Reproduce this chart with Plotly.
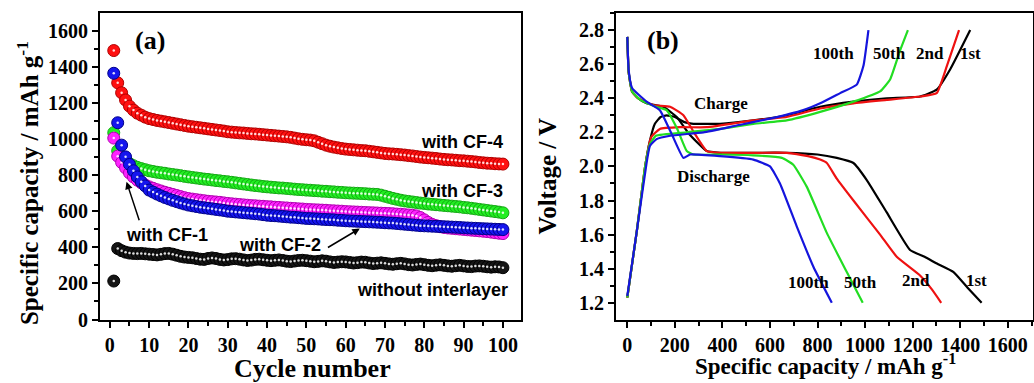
import plotly.graph_objects as go

# ---------------- Panel (a): cycling data ----------------
cycles = list(range(1, 101))

cf4 = [1490, 1311, 1256, 1216, 1182, 1160, 1143, 1132, 1121, 1113,
       1108, 1103, 1099, 1095, 1091, 1087, 1083, 1079, 1075, 1071,
       1068, 1065, 1062, 1059, 1056, 1053, 1050, 1047, 1044, 1040,
       1038, 1036, 1034, 1033, 1031, 1029, 1028, 1026, 1024, 1022,
       1020, 1018, 1016, 1014, 1012, 1009, 1005, 1001, 998, 996,
       994, 990, 982, 974, 966, 960, 955, 951, 947, 944,
       942, 940, 938, 936, 935, 932, 929, 926, 923, 920,
       918, 917, 915, 913, 911, 908, 906, 903, 900, 898,
       896, 894, 892, 889, 887, 885, 884, 882, 880, 879,
       877, 875, 873, 870, 868, 866, 865, 863, 862, 861]

cf3 = [1035, 935, 902, 880, 864, 852, 843, 836, 830, 824,
       820, 816, 813, 810, 806, 803, 800, 797, 793, 790,
       787, 784, 781, 778, 776, 773, 770, 768, 765, 763,
       760, 757, 754, 751, 748, 745, 742, 740, 737, 735,
       733, 731, 729, 728, 726, 724, 722, 720, 719, 717,
       716, 714, 713, 711, 710, 708, 707, 705, 704, 702,
       701, 700, 699, 698, 697, 695, 694, 693, 689, 683,
       677, 671, 666, 661, 657, 654, 651, 648, 645, 643,
       640, 638, 636, 634, 632, 630, 628, 626, 624, 621,
       619, 616, 613, 610, 607, 604, 601, 598, 595, 591]

cf2 = [1364, 1090, 966, 901, 859, 824, 790, 763, 740, 717,
       706, 695, 685, 676, 668, 660, 653, 646, 640, 634,
       630, 626, 622, 619, 616, 613, 610, 607, 604, 600,
       598, 596, 594, 592, 590, 588, 586, 584, 581, 578,
       576, 575, 573, 571, 569, 567, 566, 564, 562, 560,
       559, 558, 557, 555, 554, 553, 552, 550, 549, 547,
       546, 545, 544, 543, 542, 541, 540, 539, 538, 536,
       535, 534, 532, 530, 528, 526, 524, 522, 520, 519,
       518, 517, 516, 515, 514, 513, 512, 511, 510, 508,
       507, 506, 505, 504, 503, 502, 501, 500, 499, 498]

cf1 = [1005, 905, 870, 840, 812, 790, 772, 757, 745, 735,
       727, 719, 712, 705, 699, 693, 687, 681, 675, 670,
       667, 664, 661, 658, 655, 653, 651, 649, 646, 643,
       641, 639, 637, 635, 633, 631, 630, 628, 627, 625,
       624, 622, 621, 619, 618, 616, 615, 613, 612, 610,
       609, 608, 607, 606, 605, 603, 602, 601, 600, 598,
       597, 596, 595, 594, 593, 592, 591, 590, 589, 588,
       587, 586, 584, 583, 581, 579, 577, 574, 565, 552,
       538, 527, 520, 514, 510, 507, 505, 503, 501, 499,
       497, 495, 493, 491, 489, 487, 484, 481, 478, 476]

no_inter = [213, 393, 381, 373, 368, 366, 365, 366, 364, 362,
            360, 358, 361, 365, 366, 362, 356, 350, 346, 344,
            342, 338, 334, 333, 338, 341, 338, 333, 330, 332,
            336, 337, 334, 330, 327, 329, 333, 334, 331, 328,
            326, 328, 330, 327, 323, 321, 324, 327, 328, 326,
            323, 320, 322, 325, 323, 319, 316, 318, 320, 319,
            316, 313, 315, 318, 317, 313, 310, 312, 314, 311,
            308, 306, 309, 311, 308, 304, 302, 305, 307, 304,
            300, 298, 301, 303, 300, 297, 295, 298, 300, 297,
            294, 293, 296, 297, 295, 292, 290, 292, 291, 287]

# ---------------- Panel (b): voltage profiles ----------------
d1_cap = [0, 6, 20, 45, 81, 151, 208, 260, 334, 390, 500, 670, 800, 881, 951, 1007, 1091, 1189, 1250, 1302, 1372, 1430, 1490]
d1_v = [2.76, 2.55, 2.44, 2.40, 2.37, 2.35, 2.29, 2.19, 2.09, 2.08, 2.08, 2.08, 2.07, 2.05, 2.02, 1.92, 1.73, 1.51, 1.47, 1.43, 1.38, 1.29, 1.20]
d2_cap = [0, 6, 20, 45, 109, 180, 236, 280, 334, 400, 550, 670, 760, 811, 839, 880, 951, 1063, 1133, 1231, 1280, 1320]
d2_v = [2.76, 2.55, 2.44, 2.40, 2.36, 2.35, 2.30, 2.20, 2.09, 2.08, 2.08, 2.08, 2.06, 2.04, 2.02, 1.93, 1.80, 1.60, 1.47, 1.36, 1.28, 1.20]
d50_cap = [0, 6, 20, 55, 120, 165, 210, 250, 278, 400, 530, 650, 698, 755, 839, 923, 990]
d50_v = [2.76, 2.55, 2.44, 2.39, 2.35, 2.33, 2.22, 2.09, 2.07, 2.07, 2.065, 2.05, 2.01, 1.88, 1.61, 1.38, 1.20]
d100_cap = [0, 6, 20, 81, 137, 190, 236, 264, 390, 530, 600, 642, 712, 783, 860]
d100_v = [2.76, 2.56, 2.46, 2.38, 2.33, 2.18, 2.05, 2.07, 2.06, 2.04, 2.00, 1.90, 1.65, 1.41, 1.20]

c1_cap = [0, 40, 75, 95, 116, 140, 165, 200, 240, 278, 390, 530, 670, 811, 951, 1091, 1231, 1301, 1358, 1442]
c1_v = [1.23, 1.62, 2.00, 2.15, 2.25, 2.29, 2.30, 2.29, 2.26, 2.25, 2.25, 2.27, 2.30, 2.35, 2.38, 2.40, 2.41, 2.45, 2.57, 2.80]
c2_cap = [0, 40, 75, 100, 137, 222, 334, 530, 670, 811, 951, 1091, 1231, 1301, 1344, 1395]
c2_v = [1.23, 1.62, 2.00, 2.17, 2.22, 2.23, 2.23, 2.27, 2.29, 2.34, 2.37, 2.39, 2.41, 2.43, 2.59, 2.80]
c50_cap = [0, 40, 75, 95, 120, 250, 390, 530, 670, 811, 951, 1063, 1105, 1147, 1180]
c50_v = [1.23, 1.62, 2.00, 2.13, 2.18, 2.20, 2.22, 2.25, 2.27, 2.32, 2.38, 2.44, 2.51, 2.68, 2.80]
c100_cap = [0, 40, 81, 95, 123, 180, 320, 460, 600, 740, 811, 895, 965, 993, 1014]
c100_v = [1.24, 1.62, 2.02, 2.12, 2.16, 2.18, 2.20, 2.24, 2.28, 2.33, 2.37, 2.43, 2.48, 2.59, 2.80]

x_ticks_a = list(range(0, 101, 10))
y_ticks_a = list(range(0, 1601, 200))
x_ticks_b = list(range(0, 1601, 200))
y_ticks_b = [1.2, 1.4, 1.6, 1.8, 2.0, 2.2, 2.4, 2.6, 2.8]

SERIF = "Liberation Serif"
SANS = "Liberation Sans"

fig = go.Figure()

series_a = [
    (no_inter, "#151515", "#000000"),
    (cf4, "#ff1010", "#b00000"),
    (cf3, "#22ee22", "#13a813"),
    (cf1, "#ff22ff", "#b000b0"),
    (cf2, "#1515ee", "#00008a"),
]
for vals, col, edge in series_a:
    fig.add_trace(go.Scatter(
        x=cycles, y=vals, mode="markers", xaxis="x", yaxis="y",
        marker=dict(size=12, color=col, line=dict(color=edge, width=1)),
        showlegend=False, hoverinfo="skip"))
    fig.add_trace(go.Scatter(
        x=cycles, y=vals, mode="markers", xaxis="x", yaxis="y",
        marker=dict(size=2.5, color="rgba(255,255,255,0.85)", line=dict(width=0)),
        showlegend=False, hoverinfo="skip"))

curves_b = [
    (d1_cap, d1_v, "#000000"), (c1_cap, c1_v, "#000000"),
    (d2_cap, d2_v, "#ee1111"), (c2_cap, c2_v, "#ee1111"),
    (d50_cap, d50_v, "#22dd22"), (c50_cap, c50_v, "#22dd22"),
    (d100_cap, d100_v, "#1515dd"), (c100_cap, c100_v, "#1515dd"),
]
for xs, ys, col in curves_b:
    fig.add_trace(go.Scatter(
        x=xs, y=ys, mode="lines", xaxis="x2", yaxis="y2",
        line=dict(color=col, width=2.2, shape="spline", smoothing=0.4),
        showlegend=False, hoverinfo="skip"))

axis_common = dict(
    showgrid=False, zeroline=False, showline=True, linecolor="black",
    linewidth=2, mirror=True, ticks="outside", ticklen=6, tickwidth=2,
    tickcolor="black", automargin=False,
    tickfont=dict(family=SERIF, size=20, color="black", weight="bold"),
)

y_dom = [1 - 319.5 / 383, 1 - 13 / 383]
fig.update_layout(
    width=1034, height=383, autosize=False,
    margin=dict(l=0, r=0, t=0, b=0, autoexpand=False),
    paper_bgcolor="white", plot_bgcolor="white",
    showlegend=False,
    xaxis=dict(domain=[100 / 1034, 521 / 1034], range=[-2.5, 104.6],
               tickvals=x_ticks_a, anchor="y", ticklabelstandoff=0,
               minor=dict(ticks="outside", ticklen=4, tickwidth=1.5,
                          tickcolor="black", dtick=5, tick0=0),
               **axis_common),
    yaxis=dict(domain=y_dom, range=[0, 1698], tickvals=y_ticks_a, anchor="x",
               minor=dict(ticks="outside", ticklen=4, tickwidth=1.5,
                          tickcolor="black", dtick=100, tick0=0),
               **axis_common),
    xaxis2=dict(domain=[616 / 1034, 1033 / 1034], range=[-47.5, 1706],
                tickvals=x_ticks_b, anchor="y2", ticklabelstandoff=0,
                minor=dict(ticks="outside", ticklen=4, tickwidth=1.5,
                           tickcolor="black", dtick=100, tick0=0),
                **axis_common),
    yaxis2=dict(domain=y_dom, range=[1.102, 2.9], tickvals=y_ticks_b,
                tickformat=".1f", anchor="x2",
                minor=dict(ticks="outside", ticklen=4, tickwidth=1.5,
                           tickcolor="black", dtick=0.1, tick0=1.2),
                **axis_common),
)

def serif_font(size):
    return dict(family=SERIF, size=size, color="black", weight="bold")

def sans_font(size):
    return dict(family=SANS, size=size, color="black", weight="bold")

ann = []
# axis titles
ann.append(dict(text="Specific capacity / mAh g<sup>-1</sup>", xref="paper", yref="paper",
                x=28 / 1034, y=0.522, textangle=-90, showarrow=False,
                font=serif_font(25), xanchor="center", yanchor="middle"))
ann.append(dict(text="Cycle number", xref="paper", yref="paper",
                x=0.302, y=0.038, showarrow=False, font=serif_font(26),
                xanchor="center", yanchor="middle"))
ann.append(dict(text="Voltage / V", xref="paper", yref="paper",
                x=0.530, y=0.539, textangle=-90, showarrow=False,
                font=serif_font(25), xanchor="center", yanchor="middle"))
ann.append(dict(text="Specific capacity / mAh g<sup>-1</sup>", xref="paper", yref="paper",
                x=0.7987, y=0.048, showarrow=False, font=serif_font(23),
                xanchor="center", yanchor="middle"))

# panel (a) labels
ann.append(dict(text="(a)", xref="x", yref="y", x=10.2, y=1548, showarrow=False,
                font=serif_font(26)))
ann.append(dict(text="with CF-4", xref="x", yref="y", x=100.5, y=985, showarrow=False,
                font=sans_font(18), xanchor="right"))
ann.append(dict(text="with CF-3", xref="x", yref="y", x=100.5, y=711, showarrow=False,
                font=sans_font(18), xanchor="right"))
ann.append(dict(text="with CF-1", xref="x", yref="y", x=14.6, y=467, showarrow=False,
                font=sans_font(18)))
ann.append(dict(text="with CF-2", xref="x", yref="y", x=43.3, y=412, showarrow=False,
                font=sans_font(18)))
ann.append(dict(text="without interlayer", xref="x", yref="y", x=101.8, y=162,
                showarrow=False, font=sans_font(18), xanchor="right"))
# arrows
ann.append(dict(text="", xref="x", yref="y", x=4.25, y=763, axref="x", ayref="y",
                ax=7.6, ay=541, showarrow=True, arrowhead=2, arrowsize=1,
                arrowwidth=1.5, arrowcolor="black"))
ann.append(dict(text="", xref="x", yref="y", x=63.6, y=504, axref="x", ayref="y",
                ax=55.1, ay=394, showarrow=True, arrowhead=2, arrowsize=1,
                arrowwidth=1.5, arrowcolor="black"))

# panel (b) labels
ann.append(dict(text="(b)", xref="x2", yref="y2", x=150, y=2.74, showarrow=False,
                font=serif_font(26)))
ann.append(dict(text="Charge", xref="x2", yref="y2", x=393, y=2.37, showarrow=False,
                font=serif_font(17)))
ann.append(dict(text="Discharge", xref="x2", yref="y2", x=362, y=1.94, showarrow=False,
                font=serif_font(17)))
for txt, xv, yv in [("100th", 867, 2.66), ("50th", 1101, 2.66), ("2nd", 1273, 2.66),
                    ("1st", 1445, 2.66), ("100th", 764, 1.32), ("50th", 982, 1.32),
                    ("2nd", 1213, 1.33), ("1st", 1470, 1.33)]:
    ann.append(dict(text=txt, xref="x2", yref="y2", x=xv, y=yv, showarrow=False,
                    font=serif_font(17)))

fig.update_layout(annotations=ann)
fig.write_html("out.html",
               config={"displayModeBar": False, "responsive": False},
               post_script="document.body.style.margin='0';document.body.style.overflow='hidden';")
